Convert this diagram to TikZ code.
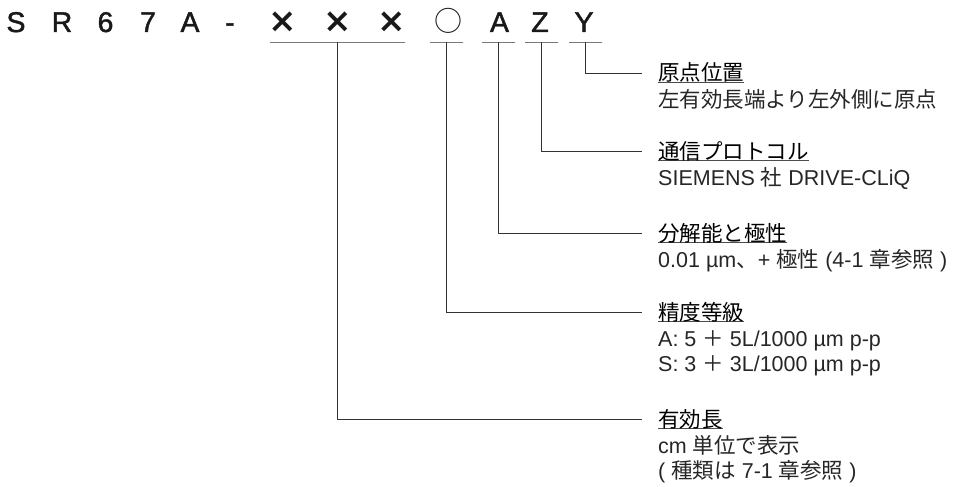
\documentclass[tikz,border=0pt]{standalone}
\usepackage{fontspec}
\setmainfont{Liberation Sans}
\newfontfamily\cjk{Noto Sans CJK JP}
\newfontfamily\codefont{Liberation Sans}[FakeBold=1.6]
\newfontfamily\crossfont{DejaVu Sans}
\newcommand{\J}[1]{{\cjk #1}}
% underlined heading text
\newcommand{\headline}[1]{\setbox0\hbox{#1}\rlap{\textcolor{black!70}{\rule[-2.2pt]{\wd0}{0.8pt}}}\box0}

\tikzset{
  code/.style={anchor=base, inner sep=0pt, text=black!90, font=\codefont\fontsize{28.5}{28.5}\selectfont},
  uline/.style={draw=black!80, line width=0.8pt, minimum height=0pt, inner sep=0pt},
  head/.style={anchor=base west, inner sep=0pt, font=\fontsize{21.5}{25}\selectfont},
  body/.style={anchor=base west, inner sep=0pt, text=black!85, font=\fontsize{21.5}{25}\selectfont},
  leader/.style={draw=black!80, line width=0.8pt},
}

\begin{document}
\begin{tikzpicture}[x=1pt,y=-1pt]
  \useasboundingbox (0,0) rectangle (953,487);

  % Model code
  \node[code] (cS) at (16,32) {S};
  \node[code] (cR) at (62,32) {R};
  \node[code] (c6) at (105.5,32) {6};
  \node[code] (c7) at (148,32) {7};
  \node[code] (cA) at (190,32) {A};
  \node[code] (cdash) at (230,32) {-};
  \foreach \i/\x in {1/282.5,2/337.5,3/391.5}
    \node[code] (cx\i) at (\x,33) {\crossfont\bfseries\fontsize{34}{34}\selectfont ×};
  \node[code] (cO) at (448.5,32) {\cjk\fontsize{28}{28}\selectfont ○};
  \node[code] (cres) at (499.5,32) {A};
  \node[code] (cZ) at (540,32) {Z};
  \node[code] (cY) at (584,32) {Y};

  % Underlines
  \node[uline, minimum width=135pt] (uX) at (337.5,42) {};
  \node[uline, minimum width=33pt] (uO) at (446.5,42) {};
  \node[uline, minimum width=33pt] (uA) at (498.5,42) {};
  \node[uline, minimum width=33pt] (uZ) at (541.5,42) {};
  \node[uline, minimum width=33pt] (uY) at (585.5,42) {};

  % Leader ends
  \coordinate (eY) at (642,73);
  \coordinate (eZ) at (642,151);
  \coordinate (eA) at (642,233);
  \coordinate (eO) at (642,312);
  \coordinate (eX) at (642,419);

  \draw[leader] (uY.center) |- (eY);
  \draw[leader] (uZ.center) |- (eZ);
  \draw[leader] (uA.center) |- (eA);
  \draw[leader] (uO.center) |- (eO);
  \draw[leader] (uX.center) |- (eX);

  % Origin
  \node[head] (hY) at (658,81) {\headline{\J{原点位置}}};
  \node[body] (bY) at (658,107) {\J{左有効長端より左外側に原点}};

  % Protocol
  \node[head] (hZ) at (658,159) {\headline{\J{通信プロトコル}}};
  \node[body] (bZ) at (658,185) {SIEMENS \J{社} DRIVE-CLiQ};

  % Resolution
  \node[head] (hA) at (658,241) {\headline{\J{分解能と極性}}};
  \node[body] (bA) at (658,267) {0.01 µm\J{、}+ \J{極性} (4-1 \J{章参照} )};

  % Accuracy
  \node[head] (hO) at (658,320) {\headline{\J{精度等級}}};
  \node[body] (bO1) at (658,346) {A: 5 \J{＋} 5L/1000 µm p-p};
  \node[body] (bO2) at (658,371) {S: 3 \J{＋} 3L/1000 µm p-p};

  % Effective length
  \node[head] (hX) at (658,427) {\headline{\J{有効長}}};
  \node[body] (bX1) at (658,453) {cm \J{単位で表示}};
  \node[body] (bX2) at (658,478) {( \J{種類は} 7-1 \J{章参照} )};
\end{tikzpicture}
\end{document}
